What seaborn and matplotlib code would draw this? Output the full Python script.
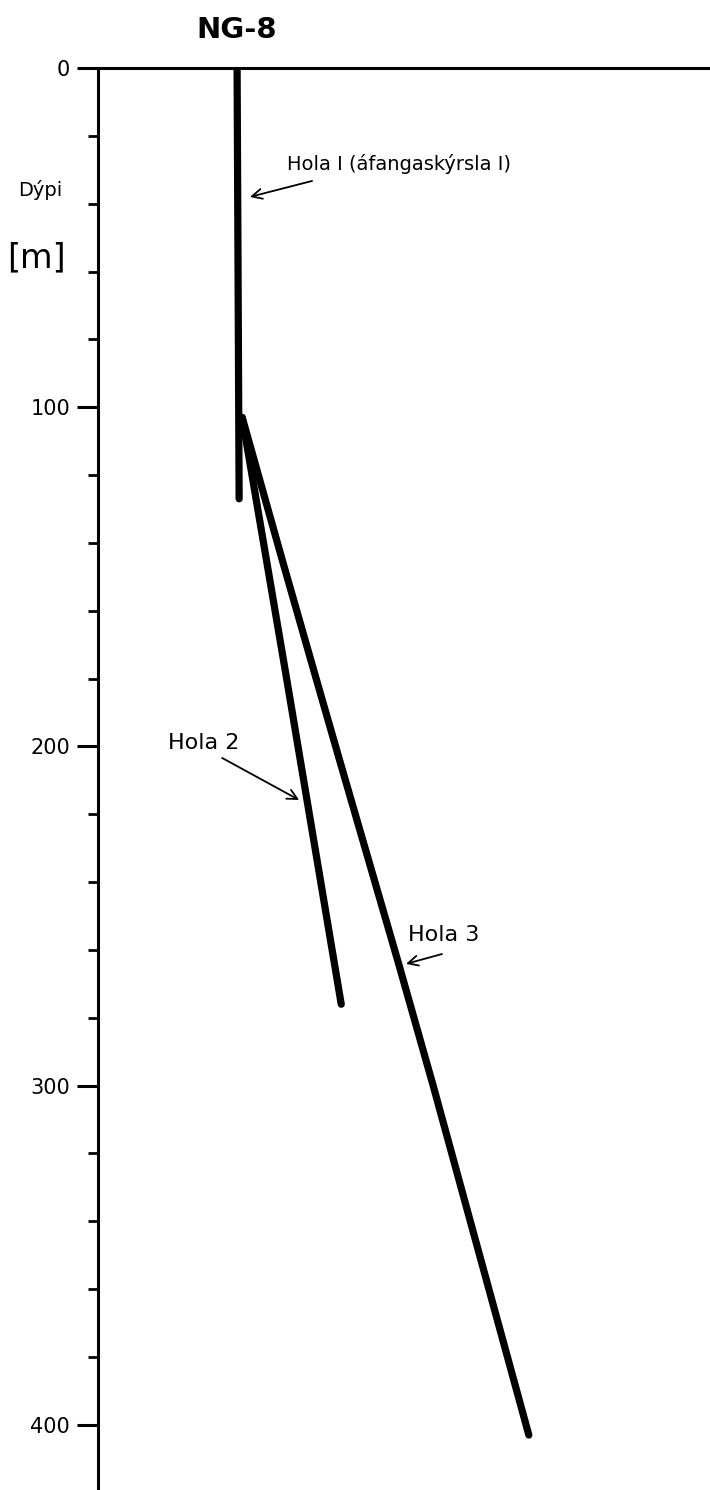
import numpy as np
import pandas as pd
import seaborn as sns
import matplotlib
matplotlib.use("Agg")
import matplotlib.pyplot as plt
from matplotlib.ticker import MultipleLocator

# well paths: depth [m] and horizontal offset from wellhead [m]
hola1_depth = [0, 127]
hola1_offset = [0, 0.6]
hola2_depth = [103, 180, 276]
hola2_offset = [1.5, 14.6, 30.7]
hola3_depth = [103, 145, 180, 204, 264, 300, 403]
hola3_offset = [1.5, 13.3, 23.3, 30.2, 47.6, 57.8, 86.0]

major_ticks = [0, 100, 200, 300, 400]

sns.set_style("ticks")
plt.rcParams["font.family"] = ["DejaVu Sans"]
plt.rcParams["text.color"] = "black"
plt.rcParams["ytick.color"] = "black"
plt.rcParams["ytick.labelcolor"] = "black"

fig = plt.figure(figsize=(7.1, 14.9), dpi=100)
ax = fig.add_axes([98 / 710, 0, 612 / 710, 1422 / 1490])

wells = pd.concat([
    pd.DataFrame({"hola": "1", "depth": hola1_depth, "offset": hola1_offset}),
    pd.DataFrame({"hola": "2", "depth": hola2_depth, "offset": hola2_offset}),
    pd.DataFrame({"hola": "3", "depth": hola3_depth, "offset": hola3_offset}),
])
for name, grp in wells.groupby("hola"):
    sns.lineplot(data=grp, x="offset", y="depth", sort=False, estimator=None,
                 color="black", linewidth=5.2, ax=ax, legend=False,
                 solid_capstyle="round", solid_joinstyle="round")

ax.set_xlim(-41, 139.4)
ax.set_ylim(419.2, 0)
ax.set_xlabel("")
ax.set_ylabel("")

# axis styling
for side in ["bottom", "right"]:
    ax.spines[side].set_visible(False)
for side in ["left", "top"]:
    ax.spines[side].set_linewidth(2.2)
    ax.spines[side].set_color("black")
ax.set_xticks([])
ax.set_yticks(major_ticks)
ax.yaxis.set_minor_locator(MultipleLocator(20))
ax.tick_params(axis="y", which="major", length=15, width=2.2, pad=5,
               labelsize=15, direction="out")
ax.tick_params(axis="y", which="minor", length=7, width=2.0, direction="out")

# labels
fig.text(237 / 710, 1 - 30 / 1490, "NG-8", ha="center", va="center",
         fontsize=21, fontweight="bold")
fig.text(40 / 710, 1 - 190 / 1490, "Dýpi", ha="center", va="center", fontsize=14)
fig.text(36 / 710, 1 - 258 / 1490, "[m]", ha="center", va="center", fontsize=24)

arrow = dict(arrowstyle="->", color="black", lw=1.3, mutation_scale=18,
             shrinkA=0, shrinkB=0)
ax.text(14.7, 28.2, "Hola I (áfangaskýrsla I)", ha="left", va="center", fontsize=14)
ax.annotate("", xy=(3.8, 38.0), xytext=(22.1, 33.3), arrowprops=arrow)

ax.text(-20.3, 199, "Hola 2", ha="left", va="center", fontsize=16)
ax.annotate("", xy=(18.3, 215.8), xytext=(-4.4, 203.4), arrowprops=arrow)

ax.text(50.4, 255.6, "Hola 3", ha="left", va="center", fontsize=16)
ax.annotate("", xy=(49.8, 264.1), xytext=(60.4, 261.2), arrowprops=arrow)

fig.savefig("out.png", dpi=100)
